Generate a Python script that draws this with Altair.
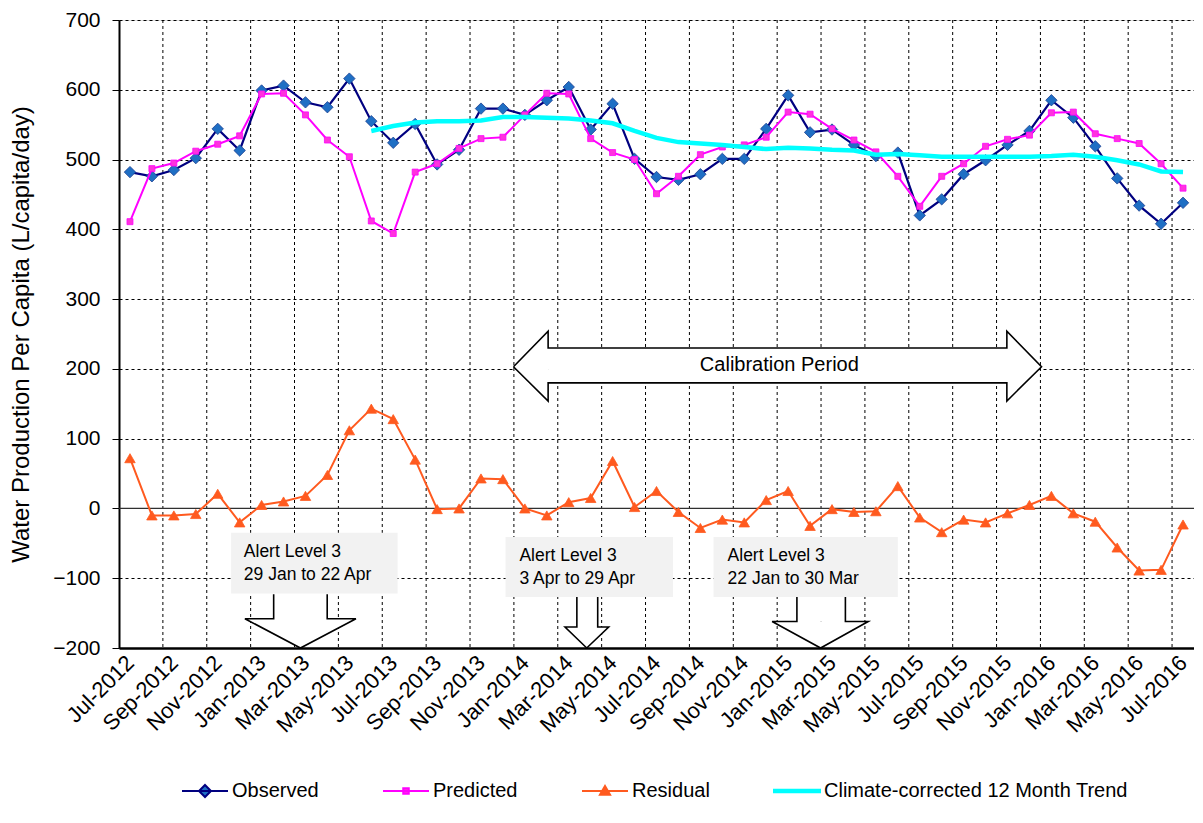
import altair as alt
import pandas as pd

# ---------------- data ----------------
months = list(pd.date_range("2012-07-01", periods=49, freq="MS").strftime("%b-%Y"))

observed = [482, 476, 485, 502, 544, 513,
            599, 606, 582, 575, 616, 555, 524, 551, 493, 514, 573, 573,
            564, 585, 604, 543, 580, 501, 475, 471, 479, 501, 501, 544,
            592, 539, 543, 521, 505, 510, 420, 443, 479, 499, 521, 541,
            585, 560, 519, 473, 434, 408, 438]
predicted = [411, 487, 495, 512, 522, 534,
             594, 595, 564, 528, 504, 412, 394, 482, 494, 516, 530, 532,
             564, 595, 594, 530, 510, 500, 451, 476, 507, 518, 521, 532,
             568, 565, 544, 528, 511, 476, 433, 476, 494, 519, 529, 535,
             567, 568, 537, 530, 523, 494, 459]
residual = [72, -10, -10, -8, 21, -20,
            5, 10, 18, 48, 112, 143, 128, 70, -1, 0, 43, 42,
            0, -10, 9, 15, 68, 2, 25, -5, -28, -16, -20, 12,
            25, -25, -1, -5, -4, 32, -13, -34, -16, -20, -7, 5,
            18, -7, -19, -56, -89, -88, -23]
trend_start = 11  # Jun-2013
trend = [541, 548, 553, 555, 555, 556, 561, 561, 560, 559, 556, 552, 541,
         531, 525, 523, 521, 518, 515, 517, 516, 514, 513, 507, 508, 506,
         504, 504, 504, 504, 504, 505, 507, 504, 499, 493, 483, 482]

series_names = ["Observed", "Predicted", "Residual",
                "Climate-corrected 12 Month Trend"]
y_title = "Water Production Per Capita (L/capita/day)"

# annotations (data units: x = month index, y = L/capita/day)
# calibration double arrow: tips, head bases, head half-height, shaft half-height
cal_tip_l, cal_base_l, cal_base_r, cal_tip_r = 17.48, 19.06, 39.97, 41.55
cal_mid, cal_head_top, cal_head_bot, cal_shaft_top, cal_shaft_bot = 203, 254, 154, 230, 180
cal_label = "Calibration Period"
cal_label_pos = [29.6, 205]

# alert down arrows
alert_top = [-123, -127, -127]
alert_base = [-158, -170, -162]
alert_tip_y = [-200, -200, -200]
alert_shaft_l = [6.55, 20.37, 30.40]
alert_shaft_r = [8.99, 21.32, 32.61]
alert_head_l = [5.24, 19.83, 29.27]
alert_head_r = [10.30, 21.82, 33.65]
alert_tip_x = [7.77, 20.82, 31.48]

box_x = [4.61, 17.12, 26.60]
box_x2 = [12.20, 24.75, 35.00]
box_y = [-35, -41, -41]
box_y2 = [-122, -127, -127]
box_line1 = ["Alert Level 3", "Alert Level 3", "Alert Level 3"]
box_line2 = ["29 Jan to 22 Apr", "3 Apr  to 29 Apr", "22 Jan to 30 Mar"]
text_x = [5.19, 17.75, 27.24]
text_y1 = [-70, -76, -76]
text_y2 = [-102, -108, -108]

# ---------------- frames ----------------
idx = list(range(len(months)))
df_obs = pd.DataFrame({"i": idx, "v": observed})
df_pred = pd.DataFrame({"i": idx, "v": predicted})
df_res = pd.DataFrame({"i": idx, "v": residual})
df_trend = pd.DataFrame({"i": list(range(trend_start, trend_start + len(trend))), "v": trend})
df_vgrid = pd.DataFrame({"gx": [k + 1.5 for k in range(0, 47, 2)]})
df_zero = pd.DataFrame({"z": [0]})

# calibration arrow pieces
df_cal_shaft = pd.DataFrame({"x": [cal_base_l], "x2": [cal_base_r],
                             "y": [cal_shaft_top], "y2": [cal_shaft_bot]})
df_cal_heads = pd.DataFrame({
    "id": ["l", "l", "r", "r"],
    "x": [cal_tip_l, cal_base_l, cal_base_r, cal_tip_r],
    "top": [cal_mid, cal_head_top, cal_head_top, cal_mid],
    "bot": [cal_mid, cal_head_bot, cal_head_bot, cal_mid],
})
cal_outline_x = [cal_tip_l, cal_base_l, cal_base_l, cal_base_r, cal_base_r, cal_tip_r,
                 cal_base_r, cal_base_r, cal_base_l, cal_base_l, cal_tip_l]
cal_outline_y = [cal_mid, cal_head_top, cal_shaft_top, cal_shaft_top, cal_head_top, cal_mid,
                 cal_head_bot, cal_shaft_bot, cal_shaft_bot, cal_head_bot, cal_mid]
df_cal_outline = pd.DataFrame({"x": cal_outline_x, "y": cal_outline_y,
                               "o": list(range(len(cal_outline_x)))})

# alert arrow pieces
df_al_shaft = pd.DataFrame({"x": alert_shaft_l, "x2": alert_shaft_r,
                            "y": alert_top, "y2": alert_base})
head_rows, out_rows = [], []
for k in range(3):
    head_rows.append({"id": k, "y": alert_base[k], "xl": alert_head_l[k], "xr": alert_head_r[k]})
    head_rows.append({"id": k, "y": alert_tip_y[k], "xl": alert_tip_x[k], "xr": alert_tip_x[k]})
    pts = [(alert_shaft_l[k], alert_top[k]), (alert_shaft_l[k], alert_base[k]),
           (alert_head_l[k], alert_base[k]), (alert_tip_x[k], alert_tip_y[k]),
           (alert_head_r[k], alert_base[k]), (alert_shaft_r[k], alert_base[k]),
           (alert_shaft_r[k], alert_top[k])]
    for j, (px, py) in enumerate(pts):
        out_rows.append({"id": k, "x": px, "y": py, "o": j})
df_al_head = pd.DataFrame(head_rows)
df_al_outline = pd.DataFrame(out_rows)

df_box = pd.DataFrame({"x": box_x, "x2": box_x2, "y": box_y, "y2": box_y2})
df_txt = pd.DataFrame({"x": text_x + text_x, "y": text_y1 + text_y2,
                       "t": box_line1 + box_line2})
df_cal_txt = pd.DataFrame({"x": [cal_label_pos[0]], "y": [cal_label_pos[1]], "t": [cal_label]})
df_leg = pd.DataFrame({"series": series_names})

# ---------------- scales / axes ----------------
FONT = "Liberation Sans"
xs = alt.Scale(domain=[-0.5, 48.5], nice=False, zero=False)
ys = alt.Scale(domain=[-200, 700], nice=False, zero=False)
label_expr = "[" + ",".join("'" + m + "'" for m in months) + "][datum.value]"

x_axis = alt.Axis(values=list(range(0, 49, 2)), labelExpr=label_expr, labelAngle=315,
                  labelAlign="right", labelBaseline="middle", labelFontSize=22,
                  labelColor="black", labelFont=FONT, labelPadding=11, ticks=False,
                  grid=False, domainColor="black", domainWidth=2.5, title=None,
                  labelOverlap=False, labelFlush=False, labelBound=False)
y_axis = alt.Axis(values=list(range(-200, 701, 100)), labelFontSize=21, labelColor="black",
                  labelFont=FONT, labelPadding=12, tickSize=7, tickColor="black",
                  tickWidth=1, domainColor="black", domainWidth=2, grid=True,
                  gridColor="black", gridDash=[3, 3], gridWidth=1, title=y_title,
                  titleFont=FONT, titleFontSize=24, titleFontWeight="normal",
                  titleColor="black", titleX=-98, titleY=314, titleAngle=270,
                  titleAlign="center", titleBaseline="middle", labelFlush=False)


def X(field):
    return alt.X(field, scale=xs, axis=x_axis, title=None)


def Y(field):
    return alt.Y(field, scale=ys, axis=y_axis, title=y_title)


# ---------------- layers ----------------
vgrid = alt.Chart(df_vgrid).mark_rule(color="black", strokeDash=[3, 3], strokeWidth=1).encode(
    x=X("gx:Q"))
zero = alt.Chart(df_zero).mark_rule(color="#303030", strokeWidth=1.3).encode(y=Y("z:Q"))

cal_shaft = alt.Chart(df_cal_shaft).mark_rect(fill="white", opacity=1).encode(
    x=X("x:Q"), x2="x2:Q", y=Y("y:Q"), y2="y2:Q")
cal_heads = alt.Chart(df_cal_heads).mark_area(fill="white", opacity=1).encode(
    x=X("x:Q"), y=Y("top:Q"), y2="bot:Q", detail="id:N")
cal_outline = alt.Chart(df_cal_outline).mark_line(color="black", strokeWidth=1.6,
                                                  strokeJoin="miter").encode(
    x=X("x:Q"), y=Y("y:Q"), order="o:Q")
cal_text = alt.Chart(df_cal_txt).mark_text(align="center", baseline="middle", fontSize=20,
                                           font=FONT, color="black").encode(
    x=X("x:Q"), y=Y("y:Q"), text="t:N")

al_shaft = alt.Chart(df_al_shaft).mark_rect(fill="white", opacity=1).encode(
    x=X("x:Q"), x2="x2:Q", y=Y("y:Q"), y2="y2:Q")
al_heads = alt.Chart(df_al_head).mark_area(orient="horizontal", fill="white", opacity=1).encode(
    y=Y("y:Q"), x=X("xl:Q"), x2="xr:Q", detail="id:N")
al_outline = alt.Chart(df_al_outline).mark_line(color="black", strokeWidth=1.6,
                                                strokeJoin="miter").encode(
    x=X("x:Q"), y=Y("y:Q"), detail="id:N", order="o:Q")
boxes = alt.Chart(df_box).mark_rect(fill="#F2F2F2", opacity=1).encode(
    x=X("x:Q"), x2="x2:Q", y=Y("y:Q"), y2="y2:Q")
box_text = alt.Chart(df_txt).mark_text(align="left", baseline="alphabetic", fontSize=17.5,
                                       font=FONT, color="black").encode(
    x=X("x:Q"), y=Y("y:Q"), text="t:N")


def series(df, line_color, width, shape=None, size=None, fill=None, stroke=None):
    ln = alt.Chart(df).mark_line(color=line_color, strokeWidth=width).encode(
        x=X("i:Q"), y=Y("v:Q"))
    if shape is None:
        return [ln]
    pt = alt.Chart(df).mark_point(shape=shape, size=size, filled=True, fill=fill,
                                  stroke=stroke, strokeWidth=0.8, opacity=1).encode(
        x=X("i:Q"), y=Y("v:Q"))
    return [ln, pt]


obs_layers = series(df_obs, "#000080", 2.2, "diamond", 130, "#1F6FC4", "#1A3D8F")
pred_layers = series(df_pred, "#FF00FF", 2.0, "square", 36, "#FF33DD", "#FF00FF")
res_layers = series(df_res, "#FF5A1F", 2.0, "triangle-up", 110, "#FF5A1F", "#FF5A1F")
trend_layers = series(df_trend, "#00FFFF", 4.5)

leg_paths = ["M-1,0L1,0M0,-0.26L0.26,0L0,0.26L-0.26,0Z",
             "M-1,0L1,0M-0.12,-0.12L0.12,-0.12L0.12,0.12L-0.12,0.12Z",
             "M-1,0L1,0M0,-0.22L0.22,0.16L-0.22,0.16Z",
             "M-1,-0.05L1,-0.05L1,0.05L-1,0.05Z"]
leg_fills = ["#1F6FC4", "#FF33DD", "#FF5A1F", "#00FFFF"]
leg_strokes = ["#000080", "#FF00FF", "#FF5A1F", "#00FFFF"]
leg = alt.Legend(title=None, orient="none", legendX=62, legendY=747, direction="horizontal",
                 columns=4, symbolSize=2116, symbolStrokeWidth=2, labelFontSize=20,
                 labelFont=FONT, labelColor="black", columnPadding=60, labelOffset=3,
                 padding=0, labelLimit=600)
legend_layer = alt.Chart(df_leg).mark_point(filled=True, clip=True, size=2116, opacity=1,
                                            strokeWidth=2).encode(
    x=alt.value(-3000), y=alt.value(-3000),
    shape=alt.Shape("series:N", scale=alt.Scale(domain=series_names, range=leg_paths), legend=leg),
    fill=alt.Fill("series:N", scale=alt.Scale(domain=series_names, range=leg_fills), legend=leg),
    stroke=alt.Stroke("series:N", scale=alt.Scale(domain=series_names, range=leg_strokes), legend=leg),
)

chart = alt.layer(
    vgrid, zero, cal_shaft, cal_heads, cal_outline, cal_text,
    al_shaft, al_heads, al_outline, boxes, box_text,
    *obs_layers, *pred_layers, *res_layers, *trend_layers, legend_layer
).properties(
    width=1075, height=628,
    autosize=alt.AutoSizeParams(type="none"),
    padding={"left": 111, "top": 12, "right": 0, "bottom": 160},
).configure_view(
    fill="#D9D9D9", strokeWidth=0
).configure(font=FONT)

chart.save("out.html", embed_options={"renderer": "svg", "actions": False})
